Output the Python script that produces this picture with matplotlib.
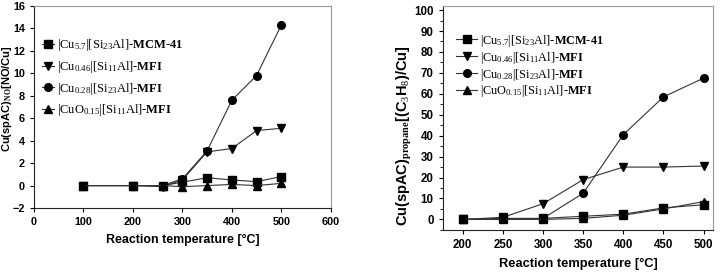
import matplotlib
matplotlib.use("Agg")
import matplotlib.pyplot as plt
from matplotlib.ticker import MultipleLocator

plt.rcParams['mathtext.fontset'] = 'custom'
plt.rcParams['mathtext.rm'] = 'Liberation Serif'
plt.rcParams['mathtext.it'] = 'Liberation Serif:italic'
plt.rcParams['mathtext.bf'] = 'Liberation Serif:bold'

labels = [r'|Cu$_{5.7}$|[Si$_{23}$Al]-$\mathbf{MCM}$-$\mathbf{41}$',
          r'|Cu$_{0.46}$|[Si$_{11}$Al]-$\mathbf{MFI}$',
          r'|Cu$_{0.28}$|[Si$_{23}$Al]-$\mathbf{MFI}$',
          r'|CuO$_{0.15}$|[Si$_{11}$Al]-$\mathbf{MFI}$']
markers = ['s', 'v', 'o', '^']

# Left panel: NO
t_no = [100, 200, 260, 300, 350, 400, 450, 500]
no_mcm = [0.0, 0.0, 0.0, 0.3, 0.7, 0.5, 0.35, 0.8]
no_046 = [0.0, 0.0, -0.1, 0.5, 3.0, 3.3, 4.9, 5.1]
no_028 = [0.0, 0.0, 0.0, 0.6, 3.1, 7.6, 9.8, 14.3]
no_cuo = [0.0, 0.0, 0.0, -0.1, 0.0, 0.1, 0.0, 0.2]

# Right panel: propane
t_pr = [200, 250, 300, 350, 400, 450, 500]
pr_mcm = [0.0, 0.5, 0.5, 1.5, 2.5, 5.5, 7.0]
pr_046 = [0.0, 1.0, 7.5, 19.0, 25.0, 25.0, 25.5]
pr_028 = [0.0, 0.0, 0.5, 12.5, 40.5, 58.5, 67.5]
pr_cuo = [0.0, 0.0, 0.0, 0.5, 2.0, 5.0, 8.5]

fig = plt.figure(figsize=(7.27, 2.8), dpi=100)
ax1 = fig.add_axes([0.0468, 0.257, 0.4082, 0.722])
ax2 = fig.add_axes([0.609, 0.179, 0.372, 0.8])

lc = '#333333'

def style(ax, size):
    for s in ['top', 'right']:
        ax.spines[s].set_color('#999999')
    for s in ['left', 'bottom']:
        ax.spines[s].set_color('#222222')
    ax.tick_params(labelsize=size, length=3, width=0.8)
    for lab in ax.get_xticklabels() + ax.get_yticklabels():
        lab.set_fontfamily('Liberation Sans')
        lab.set_fontweight('bold')

for ys, m, lab in zip([no_mcm, no_046, no_028, no_cuo], markers, labels):
    ax1.plot(t_no, ys, color=lc, lw=0.8, marker=m, ms=5.5, mfc='black', mec='black', label=lab)
ax1.set_xlim(0, 600)
ax1.set_ylim(-2, 16)
ax1.xaxis.set_major_locator(MultipleLocator(100))
ax1.yaxis.set_major_locator(MultipleLocator(2))
style(ax1, 7.8)
ax1.set_xlabel('Reaction temperature [°C]', fontfamily='Liberation Sans', fontweight='bold', fontsize=8.9, labelpad=5)
ax1.set_ylabel(r'Cu(spAC)$_{\mathbf{NO}}$[NO/Cu]', fontfamily='Liberation Sans', fontweight='bold', fontsize=8)
ax1.yaxis.set_label_coords(-0.068, 0.54)
ax1.legend(loc='upper left', bbox_to_anchor=(-0.01, 0.9), frameon=False, handlelength=0.9,
           handletextpad=0.3, labelspacing=0.45, prop={'family': 'Liberation Serif', 'size': 9})

for ys, m, lab in zip([pr_mcm, pr_046, pr_028, pr_cuo], markers, labels):
    ax2.plot(t_pr, ys, color=lc, lw=0.8, marker=m, ms=5.5, mfc='black', mec='black', label=lab)
ax2.set_xlim(175, 512)
ax2.set_ylim(-5, 102)
ax2.xaxis.set_major_locator(MultipleLocator(50))
ax2.yaxis.set_major_locator(MultipleLocator(10))
ax2.yaxis.set_minor_locator(MultipleLocator(5))
ax2.tick_params(which='minor', length=2)
style(ax2, 8.3)
ax2.set_xlabel('Reaction temperature [°C]', fontfamily='Liberation Sans', fontweight='bold', fontsize=9.3, labelpad=5)
ax2.set_ylabel(r'Cu(spAC)$_{\mathbf{propane}}$[(C$_3$H$_8$)/Cu]', fontfamily='Liberation Sans', fontweight='bold', fontsize=10.5)
ax2.yaxis.set_label_coords(-0.105, 0.42)
ax2.legend(loc='upper left', bbox_to_anchor=(0.01, 0.93), frameon=False, handlelength=1.7,
           handletextpad=0.2, labelspacing=0.08, prop={'family': 'Liberation Serif', 'size': 8.8})

fig.savefig('out.png', dpi=100)
